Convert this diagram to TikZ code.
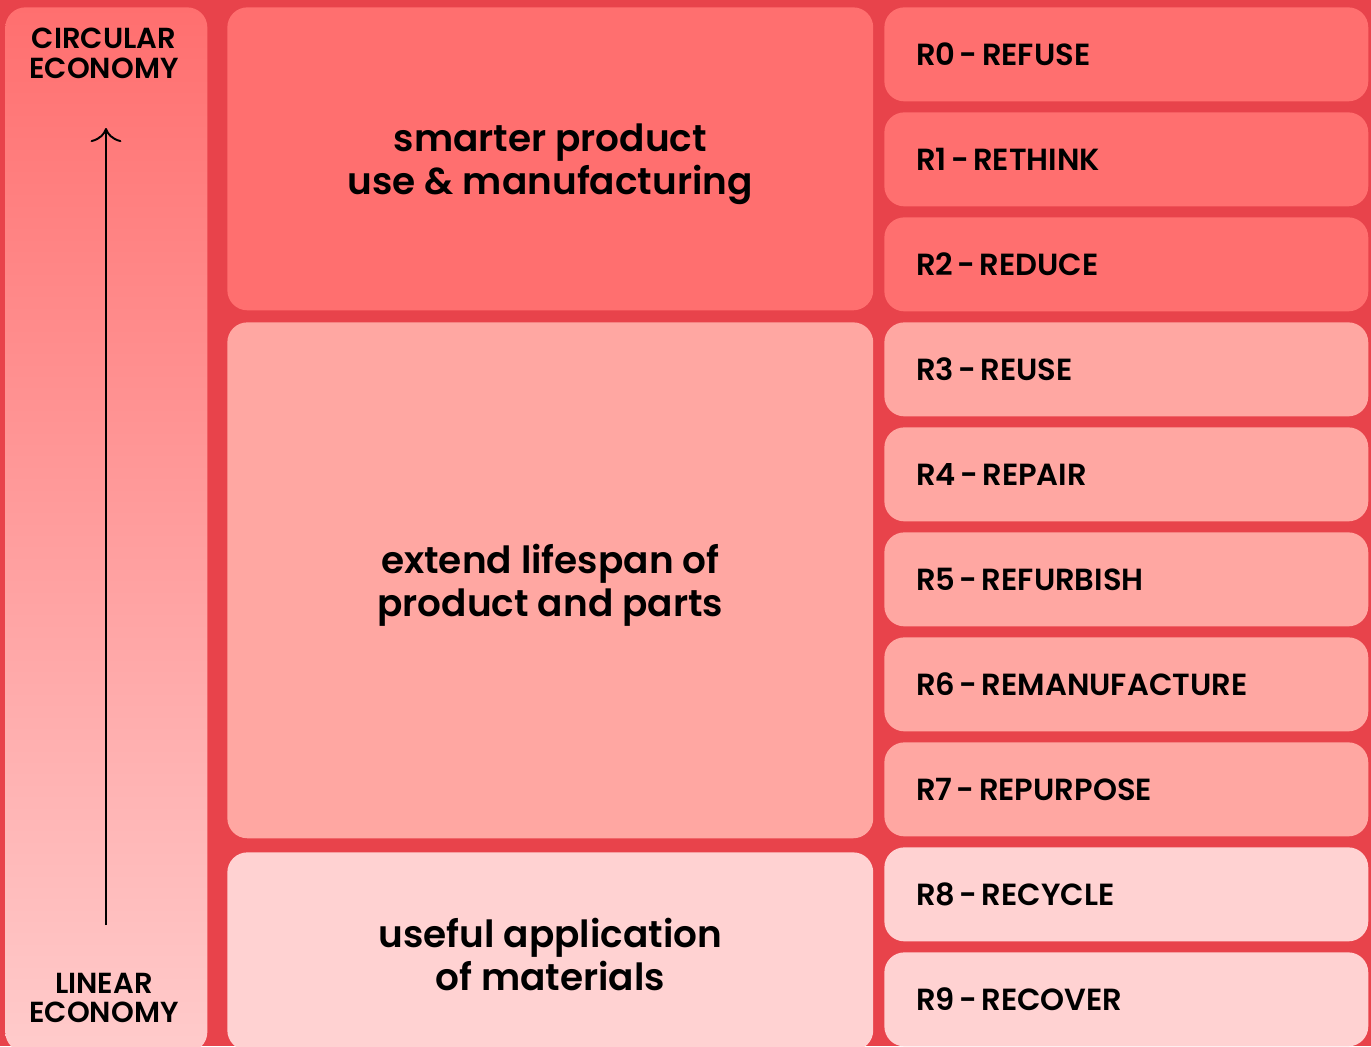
\documentclass[tikz,border=0pt]{standalone}
\usepackage{fontspec}
\setmainfont{Poppins}[BoldFont={Poppins SemiBold}]
\usetikzlibrary{arrows.meta}
\definecolor{bgred}{HTML}{E8434B}
\definecolor{smart}{HTML}{FF6F6F}
\definecolor{extend}{HTML}{FFA7A2}
\definecolor{useful}{HTML}{FFD2D2}
\definecolor{ecotop}{HTML}{FF6F6F}
\definecolor{ecobot}{HTML}{FFCBCB}

\begin{document}
\begin{tikzpicture}[x=0.02cm, y=-0.02cm, font=\bfseries,
  box/.style={rounded corners=0.4cm, inner sep=0pt},
  group/.style={box, minimum width=12.92cm, anchor=north west},
  gtext/.style={align=center, font=\bfseries\fontsize{21.3}{24.4}\selectfont},
  rstep/.style={box, fill=#1, anchor=north west, minimum height=1.88cm,
    text width=8.4cm, inner xsep=0.64cm, align=left,
    font=\bfseries\fontsize{17.4}{19}\selectfont},
  econ/.style={align=center, font=\bfseries\fontsize{16.5}{17}\selectfont}]
  % Plocha
  \clip (0,0) rectangle (1371,1046);
  \fill[bgred] (0,0) rectangle (1371,1046);
  % Levy sloupec
  \node[box, top color=ecotop, bottom color=ecobot, anchor=north west,
    minimum width=4.04cm, minimum height=20.9cm] (eco) at (5,7) {};
  \node[econ] (circ) at (104,53) {CIRCULAR\\ECONOMY};
  \node[econ] (lin) at (104,998) {LINEAR\\ECONOMY};
  \coordinate (lo) at (106,925);
  \coordinate (hi) at (106,128);
  \draw[line width=1.1pt, -{To[length=8pt, width=17.5pt, line width=1.1pt]}] (lo) -- (hi);
  % Skupiny
  \node[group, fill=smart, minimum height=6.06cm] (g1) at (227,7) {};
  \node[group, fill=extend, minimum height=10.32cm] (g2) at (227,322) {};
  \node[group, fill=useful, minimum height=3.96cm] (g3) at (227,852) {};
  \node[gtext] (g1t) at ([yshift=-3pt]g1.center) {smarter product\\use \& manufacturing};
  \node[gtext] (g2t) at ([yshift=-3pt]g2.center) {extend lifespan of\\product and parts};
  \node[gtext] (g3t) at ([yshift=-2pt]g3.center) {useful application\\of materials};
  % R-strategie
  \foreach \i/\txt/\col in {0/REFUSE/smart, 1/RETHINK/smart, 2/REDUCE/smart,
      3/REUSE/extend, 4/REPAIR/extend, 5/REFURBISH/extend,
      6/REMANUFACTURE/extend, 7/REPURPOSE/extend,
      8/RECYCLE/useful, 9/RECOVER/useful}
    \node[rstep=\col] (r\i) at (884,{7+105*\i})
      {R\i\hspace{0.14em}-\hspace{0.14em}\txt};
\end{tikzpicture}
\end{document}
